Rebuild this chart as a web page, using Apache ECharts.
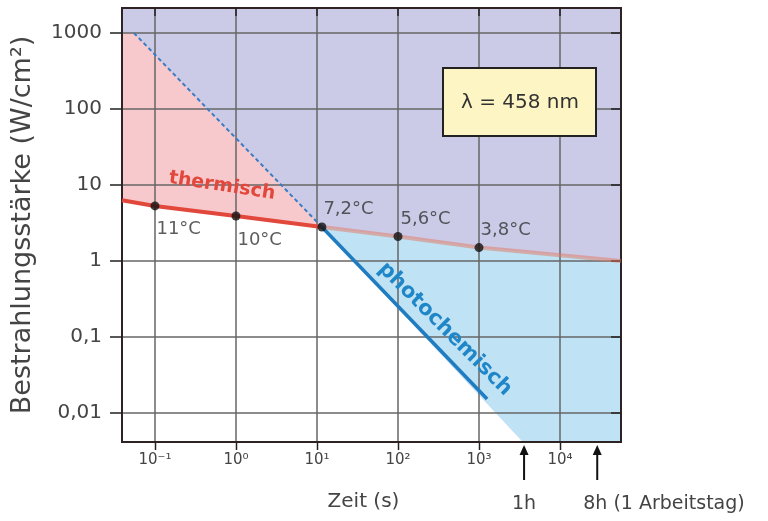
<!DOCTYPE html>
<html>
<head>
<meta charset="utf-8">
<script src="https://cdn.jsdelivr.net/npm/echarts@6/dist/echarts.min.js"></script>
<style>html,body{margin:0;padding:0;background:#fff;}#c{width:768px;height:521px;}</style>
</head>
<body>
<div id="c"></div>
<script>
// axis extents (s, W/cm²)
const xMin = 0.0392, xMax = 56600;
const yMin = 0.00415, yMax = 2130;

// tick values and labels
const xTickValues = [0.1, 1, 10, 100, 1000, 10000];
const xTickLabels = ['10⁻¹', '10⁰', '10¹', '10²', '10³', '10⁴'];
const yTickValues = [0.01, 0.1, 1, 10, 100, 1000];
const yTickLabels = ['0,01', '0,1', '1', '10', '100', '1000'];

// thermal limit (solid red part, up to the crossing)
const thermalTime = [0.0392, 0.1, 1, 11.5];
const thermalIrr  = [6.3, 5.3, 3.9, 2.8];
// thermal limit continuation (faded part)
const thermalExtTime = [11.5, 100, 1000, 56600];
const thermalExtIrr  = [2.8, 2.1, 1.5, 1.0];

// photochemical limit: dashed part and solid part
const photoDashTime = [0.055, 11.5];
const photoDashIrr  = [1000, 2.8];
const photoTime = [11.5, 1259];
const photoIrr  = [2.8, 0.0153];
// where the photochemical boundary of the blue area meets the bottom
const photoEdgeTime = 3500;
// upper edge of the pink area
const pinkTopIrr = 1000;

// measured temperature rises
const tempTime   = [0.1, 1, 11.5, 100, 1000];
const tempIrr    = [5.3, 3.9, 2.8, 2.1, 1.5];
const tempLabels = ['11°C', '10°C', '7,2°C', '5,6°C', '3,8°C'];

// arrows
const markTimes  = [3600, 28800];
const markLabels = ['1h', '8h (1 Arbeitstag)'];

const zip = (a, b) => a.map((v, i) => [v, b[i]]);
const thermal = zip(thermalTime, thermalIrr);
const thermalExt = zip(thermalExtTime, thermalExtIrr);

const regions = [
  { color: '#cbcbe8', pts: [[xMin, yMin], [xMax, yMin], [xMax, yMax], [xMin, yMax]] },
  { color: '#ffffff', pts: [[xMin, yMin]].concat(thermal, [[photoEdgeTime, yMin]]) },
  { color: '#f7c8cc', pts: [[xMin, pinkTopIrr]].concat(zip(photoDashTime, photoDashIrr), thermal.slice().reverse()) },
  { color: '#bfe2f5', pts: thermalExt.concat([[xMax, yMin], [photoEdgeTime, yMin]]) }
];

function labelFor(values, labels) {
  return v => {
    let best = -1, bd = Infinity;
    values.forEach((t, i) => { const d = Math.abs(Math.log10(t) - Math.log10(v)); if (d < bd) { bd = d; best = i; } });
    return bd < 1e-6 ? labels[best] : '';
  };
}
const FONT = 'DejaVu Sans';
const noMinor = { minorTick: { show: false }, minorSplitLine: { show: false } };

const chart = echarts.init(document.getElementById('c'), null, { renderer: 'canvas' });

const labelOffsets = [[2, 24], [2, 25], [2, -17], [3, -17], [2, -17]];

chart.setOption({
  animation: false,
  grid: { left: 122, right: 147, top: 8, bottom: 79, show: true, borderColor: '#2e2222', borderWidth: 2, backgroundColor: 'transparent' },
  xAxis: [Object.assign({
    type: 'log', logBase: 10, min: xMin, max: xMax, position: 'bottom',
    axisLine: { show: true, lineStyle: { color: '#2e2222', width: 2 } },
    axisTick: { show: false, customValues: xTickValues },
    axisLabel: { fontFamily: FONT, fontSize: 15, color: '#444', margin: 11, customValues: xTickValues, formatter: labelFor(xTickValues, xTickLabels) },
    splitLine: { show: true, lineStyle: { color: '#666', width: 1.5 } },
    name: 'Zeit (s)', nameLocation: 'middle', nameGap: 50,
    nameTextStyle: { fontFamily: FONT, fontSize: 20, color: '#444', padding: [0, 16, 0, 0] }
  }, noMinor), Object.assign({
    type: 'log', logBase: 10, min: xMin, max: xMax, position: 'top',
    axisLine: { show: true, lineStyle: { color: '#2e2222', width: 2 } },
    axisTick: { show: true, inside: true, length: 8, customValues: xTickValues, lineStyle: { color: '#222', width: 1.5 } },
    axisLabel: { show: false }, splitLine: { show: false }
  }, noMinor)],
  yAxis: [Object.assign({
    type: 'log', logBase: 10, min: yMin, max: yMax, position: 'left',
    axisLine: { show: true, lineStyle: { color: '#2e2222', width: 2 } },
    axisTick: { show: true, length: 12, customValues: yTickValues, lineStyle: { color: '#222', width: 1.5 } },
    axisLabel: { fontFamily: FONT, fontSize: 20, color: '#444', margin: 20, customValues: yTickValues, formatter: labelFor(yTickValues, yTickLabels) },
    splitLine: { show: true, lineStyle: { color: '#666', width: 1.5 } },
    name: 'Bestrahlungsstärke (W/cm²)', nameLocation: 'middle', nameGap: 86, nameRotate: 90,
    nameTextStyle: { fontFamily: FONT, fontSize: 27, color: '#444' }
  }, noMinor), Object.assign({
    type: 'log', logBase: 10, min: yMin, max: yMax, position: 'right',
    axisLine: { show: true, lineStyle: { color: '#2e2222', width: 2 } },
    axisTick: { show: true, inside: true, length: 10, customValues: yTickValues, lineStyle: { color: '#222', width: 1.5 } },
    axisLabel: { show: false }, splitLine: { show: false }
  }, noMinor)],
  series: [
    {
      type: 'custom', z: -1, silent: true, clip: true,
      data: regions.map((r, i) => [r.pts[0][0], r.pts[0][1], i]),
      encode: { x: 0, y: 1 },
      renderItem: (params, api) => {
        const r = regions[api.value(2)];
        return { type: 'polygon', shape: { points: r.pts.map(p => api.coord(p)) }, style: { fill: r.color } };
      }
    },
    { type: 'line', data: thermalExt, symbol: 'none', lineStyle: { color: 'rgba(228,120,96,0.5)', width: 4 }, z: 3 },
    { type: 'line', data: thermal, symbol: 'none', lineStyle: { color: '#e2473c', width: 4 }, z: 4 },
    { type: 'line', data: zip(photoDashTime, photoDashIrr), symbol: 'none', lineStyle: { color: '#3a7cc4', width: 2, type: [4, 3] }, z: 4 },
    { type: 'line', data: zip(photoTime, photoIrr), symbol: 'none', lineStyle: { color: '#1f7cc0', width: 3.5 }, z: 4 },
    {
      type: 'scatter', z: 6, symbolSize: 9, itemStyle: { color: '#111' },
      data: tempTime.map((t, i) => ({
        value: [t, tempIrr[i]],
        label: { show: true, formatter: tempLabels[i], position: [labelOffsets[i][0] + 4, labelOffsets[i][1] + 4], align: 'left', verticalAlign: 'middle',
                 fontFamily: FONT, fontSize: 18, color: '#333' }
      }))
    }
  ]
});

// annotations
const graphics = [];
const axisY = chart.convertToPixel({ yAxisIndex: 0 }, yMin);
// bottom axis ticks (outward)
xTickValues.forEach(t => {
  const x = Math.round(chart.convertToPixel({ xAxisIndex: 0 }, t)) + 0.5;
  graphics.push({ type: 'line', shape: { x1: x, y1: axisY, x2: x, y2: axisY + 8 }, style: { stroke: '#222', lineWidth: 1.5 } });
});
markTimes.forEach((t, i) => {
  const x = chart.convertToPixel({ xAxisIndex: 0 }, t);
  graphics.push({ type: 'line', shape: { x1: x, y1: axisY + 38, x2: x, y2: axisY + 10 }, style: { stroke: '#111', lineWidth: 2 } });
  graphics.push({ type: 'polygon', shape: { points: [[x, axisY + 3], [x - 4.5, axisY + 13], [x + 4.5, axisY + 13]] }, style: { fill: '#111' } });
  graphics.push({ type: 'text', x: i === 0 ? x : x - 14, y: axisY + 62,
    style: { text: markLabels[i], font: '19px "DejaVu Sans"', fill: '#444', align: i === 0 ? 'center' : 'left', verticalAlign: 'middle' } });
});
graphics.push({ type: 'rect', shape: { x: 443, y: 68, width: 153, height: 68 }, style: { fill: '#fdf5c4', stroke: '#222', lineWidth: 2 }, z: 10 });
graphics.push({ type: 'text', x: 520, y: 103, z: 11, style: { text: 'λ = 458 nm', font: '20px "DejaVu Sans"', fill: '#333', align: 'center', verticalAlign: 'middle' } });
graphics.push({ type: 'text', x: 222, y: 186, rotation: -0.15, z: 11, style: { text: 'thermisch', font: 'bold 19px "DejaVu Sans"', fill: '#e2473c', align: 'center', verticalAlign: 'middle' } });
graphics.push({ type: 'text', x: 445, y: 329, rotation: -Math.PI / 4, z: 11, style: { text: 'photochemisch', font: 'bold 21px "DejaVu Sans"', fill: '#1f86c8', align: 'center', verticalAlign: 'middle' } });
chart.setOption({ graphic: graphics });
</script>
</body>
</html>
